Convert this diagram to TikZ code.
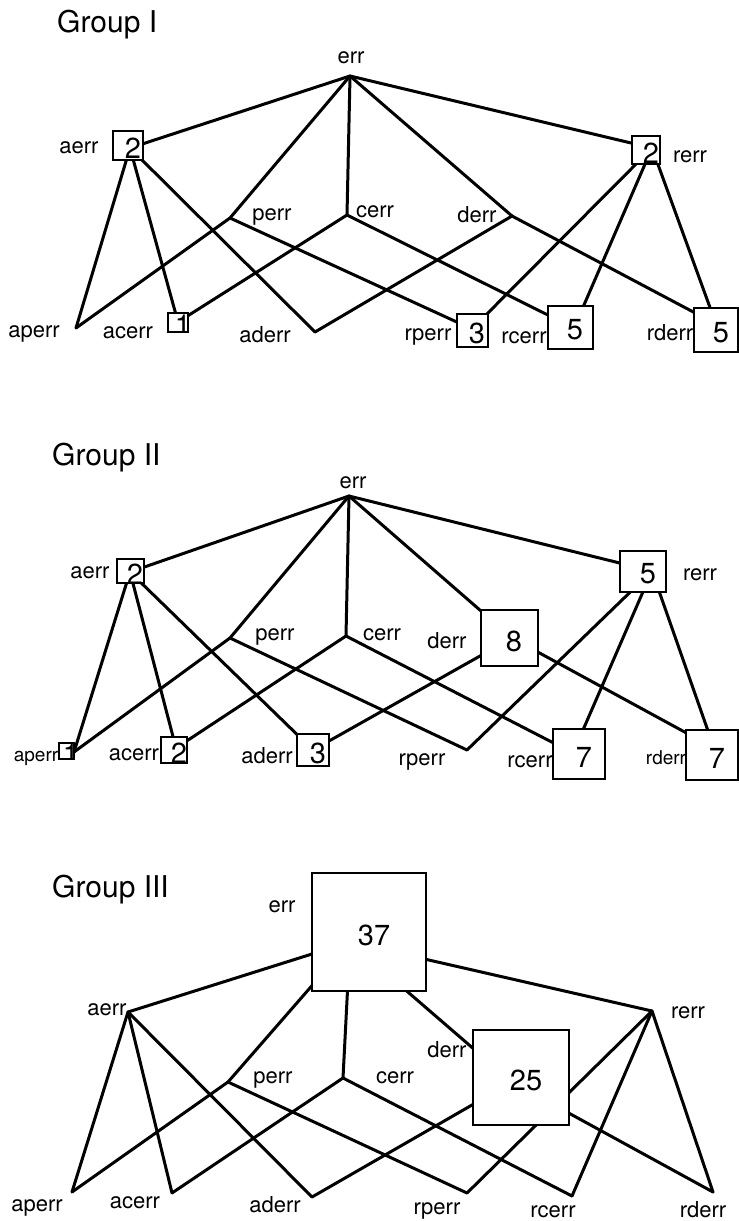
\documentclass[tikz,border=0pt]{standalone}
\usepackage{fontspec}
\setmainfont{TeX Gyre Heros}
\begin{document}
\begin{tikzpicture}[x=1pt,y=-1pt,
  edge/.style={line width=3pt, line cap=round, line join=round},
  digit/.style={font=\fontsize{29}{31}\selectfont, inner sep=0pt},
  cnt/.style n args={3}{draw, line width=2pt, fill=white, inner sep=0pt,
    minimum width=#1pt, minimum height=#2pt,
    path picture={\node[digit] at ([shift={(5pt,-3pt)}]path picture bounding box.center) {#3};}},
  lbl/.style={anchor=base, inner sep=0pt, font=\fontsize{22}{24}\selectfont},
  lblsmall/.style={lbl, font=\fontsize{19}{21}\selectfont},
  grouptitle/.style={anchor=base west, inner sep=0pt, font=\fontsize{30}{32}\selectfont}]

\useasboundingbox (0,0) rectangle (739,1221);

% ---------- lattice vertices ----------
% Group I
\coordinate (g1err)   at (350,76);
\coordinate (g1aerr)  at (130,148);
\coordinate (g1perr)  at (230,218);
\coordinate (g1cerr)  at (347,215);
\coordinate (g1derr)  at (512,216);
\coordinate (g1rerr)  at (652,148);
\coordinate (g1aperr) at (76,328);
\coordinate (g1acerr) at (178,322);
\coordinate (g1aderr) at (315,332);
\coordinate (g1rperr) at (472,329);
\coordinate (g1rcerr) at (574,328);
\coordinate (g1rderr) at (716,324);
% Group II
\coordinate (g2err)   at (349,496);
\coordinate (g2aerr)  at (130,572);
\coordinate (g2perr)  at (230,638);
\coordinate (g2cerr)  at (346,636);
\coordinate (g2derr)  at (512,638);
\coordinate (g2rerr)  at (652,571);
\coordinate (g2aperr) at (74,752);
\coordinate (g2acerr) at (176,748);
\coordinate (g2aderr) at (313,750);
\coordinate (g2rperr) at (467,750);
\coordinate (g2rcerr) at (573,753);
\coordinate (g2rderr) at (714,748);
% Group III
\coordinate (g3err)   at (350,942);
\coordinate (g3aerr)  at (128,1012);
\coordinate (g3perr)  at (228,1082);
\coordinate (g3cerr)  at (343,1078);
\coordinate (g3derr)  at (512,1082);
\coordinate (g3rerr)  at (652,1011);
\coordinate (g3aperr) at (72,1192);
\coordinate (g3acerr) at (172,1193);
\coordinate (g3aderr) at (312,1197);
\coordinate (g3rperr) at (467,1193);
\coordinate (g3rcerr) at (572,1196);
\coordinate (g3rderr) at (713,1192);

% ---------- lattice edges ----------
\foreach \g in {1,2,3}{
  \foreach \a/\b in {err/aerr,err/perr,err/cerr,err/derr,err/rerr,
                     aerr/aperr,aerr/acerr,aerr/aderr,
                     perr/aperr,perr/rperr,
                     cerr/acerr,cerr/rcerr,
                     derr/aderr,derr/rderr,
                     rerr/rperr,rerr/rcerr,rerr/rderr}
    \draw[edge] (g\g\a) -- (g\g\b);
}

% ---------- titles and vertex names ----------
\node[grouptitle] (t1) at (57,32) {Group I};
\node[lbl] (l1err)   at (351,63)  {err};
\node[lbl] (l1aerr)  at (79,153)  {aerr};
\node[lbl] (l1perr)  at (272,220) {perr};
\node[lbl] (l1cerr)  at (375,217) {cerr};
\node[lbl] (l1derr)  at (477,222) {derr};
\node[lbl] (l1rerr)  at (690,162) {rerr};
\node[lbl] (l1aperr) at (34,337)  {aperr};
\node[lbl] (l1acerr) at (128,338) {acerr};
\node[lbl] (l1aderr) at (265,342) {aderr};
\node[lbl] (l1rperr) at (428,340) {rperr};
\node[lbl] (l1rcerr) at (524,343) {rcerr};
\node[lbl] (l1rderr) at (670,340) {rderr};

\node[grouptitle] (t2) at (52,465) {Group II};
\node[lbl] (l2err)   at (353,488) {err};
\node[lbl] (l2aerr)  at (90,578)  {aerr};
\node[lbl] (l2perr)  at (275,640) {perr};
\node[lbl] (l2cerr)  at (382,640) {cerr};
\node[lbl] (l2derr)  at (447,648) {derr};
\node[lbl] (l2rerr)  at (700,580) {rerr};
\node[lblsmall] (l2aperr) at (36,761) {aperr};
\node[lbl] (l2acerr) at (134,760) {acerr};
\node[lbl] (l2aderr) at (267,763) {aderr};
\node[lbl] (l2rperr) at (422,765) {rperr};
\node[lbl] (l2rcerr) at (530,767) {rcerr};
\node[lblsmall] (l2rderr) at (666,764) {rderr};

\node[grouptitle] (t3) at (52,897) {Group III};
\node[lbl] (l3err)   at (282,912)  {err};
\node[lbl] (l3aerr)  at (107,1015) {aerr};
\node[lbl] (l3perr)  at (273,1083) {perr};
\node[lbl] (l3cerr)  at (395,1083) {cerr};
\node[lbl] (l3derr)  at (447,1057) {derr};
\node[lbl] (l3rerr)  at (688,1018) {rerr};
\node[lbl] (l3aperr) at (37,1211)  {aperr};
\node[lbl] (l3acerr) at (135,1208) {acerr};
\node[lbl] (l3aderr) at (275,1212) {aderr};
\node[lbl] (l3rperr) at (437,1214) {rperr};
\node[lbl] (l3rcerr) at (553,1217) {rcerr};
\node[lbl] (l3rderr) at (703,1217) {rderr};

% ---------- count boxes ----------
\node[cnt={30}{29}{2}] (b1aerr)  at (128,145) {};
\node[cnt={28}{28}{2}] (b1rerr)  at (646,150) {};
\node[cnt={20}{19}{1}] (b1acerr) at (178,322) {};
\node[cnt={31}{33}{3}] (b1rperr) at (472,330) {};
\node[cnt={45}{43}{5}] (b1rcerr) at (570,327) {};
\node[cnt={44}{44}{5}] (b1rderr) at (716,330) {};

\node[cnt={27}{24}{2}] (b2aerr)  at (130,571) {};
\node[cnt={57}{56}{8}] (b2derr)  at (509,638) {};
\node[cnt={46}{41}{5}] (b2rerr)  at (643,571) {};
\node[cnt={15}{16}{1}] (b2aperr) at (66,751)  {};
\node[cnt={26}{26}{2}] (b2acerr) at (174,750) {};
\node[cnt={32}{32}{3}] (b2aderr) at (313,750) {};
\node[cnt={52}{50}{7}] (b2rcerr) at (579,754) {};
\node[cnt={52}{50}{7}] (b2rderr) at (712,755) {};

\node[cnt={114}{118}{37}] (b3err)  at (369,932)  {};
\node[cnt={96}{95}{25}]   (b3derr) at (521,1077) {};
\end{tikzpicture}
\end{document}
